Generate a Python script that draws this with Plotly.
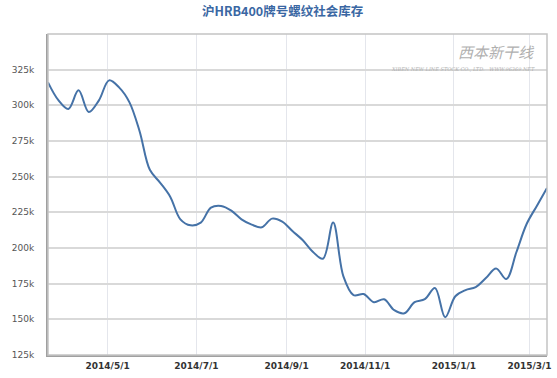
import numpy as np
import pandas as pd
import plotly.graph_objects as go

title = "沪HRB400牌号螺纹社会库存"

dates = [
    "2014-03-21", "2014-03-28", "2014-04-04", "2014-04-11", "2014-04-18", "2014-04-25",
    "2014-05-02", "2014-05-09", "2014-05-16", "2014-05-23", "2014-05-30",
    "2014-06-06", "2014-06-13", "2014-06-20", "2014-06-27",
    "2014-07-04", "2014-07-11", "2014-07-18", "2014-07-25",
    "2014-08-01", "2014-08-08", "2014-08-15", "2014-08-22", "2014-08-29",
    "2014-09-05", "2014-09-12", "2014-09-19", "2014-09-26",
    "2014-10-10", "2014-10-17", "2014-10-24", "2014-10-31",
    "2014-11-07", "2014-11-14", "2014-11-21", "2014-11-28",
    "2014-12-05", "2014-12-12", "2014-12-19", "2014-12-26",
    "2015-01-02", "2015-01-09", "2015-01-16", "2015-01-23", "2015-01-30",
    "2015-02-06", "2015-02-13", "2015-02-27",
    "2015-03-06", "2015-03-13",
]

inventory = [
    316100, 303800, 297500, 310500, 295300, 303500,
    317500, 312400, 302100, 281700, 254800,
    245900, 236000, 220100, 215900,
    217800, 228300, 229500, 226200,
    220100, 216400, 214500, 220600, 218500,
    211900, 205600, 197400, 192500,
    217800, 180300, 167000, 167700,
    162000, 164100, 156400, 154300,
    162000, 164100, 171900, 151500,
    166200, 170500, 172600, 178900, 185600,
    178200, 197200, 216800,
    229500, 242100,
]

x_tick_dates = ["2014-05-01", "2014-07-01", "2014-09-01", "2014-11-01", "2015-01-01", "2015-03-01"]
x_tick_labels = ["2014/5/1", "2014/7/1", "2014/9/1", "2014/11/1", "2015/1/1", "2015/3/1"]

y_tick_values = [125000, 150000, 175000, 200000, 225000, 250000, 275000, 300000, 325000]
y_tick_labels = ["125k", "150k", "175k", "200k", "225k", "250k", "275k", "300k", "325k"]

# ordinal x axis: points equally spaced, ticks interpolated between points
pt_days = pd.to_datetime(pd.Series(dates)).map(pd.Timestamp.toordinal).to_numpy(dtype=float)
idx = np.arange(len(dates), dtype=float)
tick_days = pd.to_datetime(pd.Series(x_tick_dates)).map(pd.Timestamp.toordinal).to_numpy(dtype=float)
tick_pos = np.interp(tick_days, pt_days, idx)

fig = go.Figure()
fig.add_trace(go.Scatter(
    x=idx, y=inventory, mode="lines",
    line=dict(color="#4572A7", width=2, shape="spline", smoothing=1.0),
    hoverinfo="skip", showlegend=False, cliponaxis=False,
))

fig.update_layout(
    width=557, height=378,
    margin=dict(l=48, r=10, t=34, b=23, autoexpand=False),
    paper_bgcolor="white", plot_bgcolor="white",
    font=dict(family="DejaVu Sans, Noto Sans CJK SC", size=9, color="#555"),
    xaxis=dict(
        range=[0, len(dates) - 1], automargin=False,
        tickvals=list(tick_pos), ticktext=x_tick_labels,
        showgrid=True, gridcolor="#e4e6ec", gridwidth=1,
        zeroline=False, showline=True, linecolor="#a0a0a0", linewidth=2,
        ticks="", tickfont=dict(size=9, color="#333", weight="bold"),
        ticklabelstandoff=1,
    ),
    yaxis=dict(
        range=[125000, 350000], automargin=False,
        tickvals=y_tick_values, ticktext=y_tick_labels,
        showgrid=True, gridcolor="#d9d9d9", gridwidth=1.5,
        zeroline=False, showline=True, linecolor="#a0a0a0", linewidth=2,
        ticks="", tickfont=dict(size=9, color="#555"),
        ticklabelstandoff=10,
    ),
    shapes=[dict(type="rect", xref="paper", yref="paper", x0=0, y0=0, x1=1, y1=1,
                 line=dict(color="#c4c4c4", width=1.5), layer="above")],
    annotations=[
        dict(text=title, xref="paper", yref="paper", x=0.47, xanchor="center",
             y=1, yanchor="bottom", yshift=12, showarrow=False,
             font=dict(size=12.5, color="#3a67a3", weight="bold",
                       family="Noto Sans CJK SC, DejaVu Sans")),
        dict(text="<i>西本新干线</i>", xref="paper", yref="paper", x=0.98, xanchor="right",
             y=1, yanchor="top", yshift=-5, showarrow=False,
             font=dict(size=15, color="#b0b0b0", family="Noto Sans CJK SC")),
        dict(text="<i>XIBEN NEW LINE STOCK CO., LTD.   WWW.96369.NET</i>", xref="paper", yref="paper",
             x=0.98, xanchor="right", y=1, yanchor="top", yshift=-30, showarrow=False,
             font=dict(size=5, color="#b0b0b0", family="DejaVu Serif")),
    ],
)

fig.write_html("out.html", config={"displayModeBar": False},
               post_script="document.body.style.margin='0';document.body.style.overflow='hidden';")
